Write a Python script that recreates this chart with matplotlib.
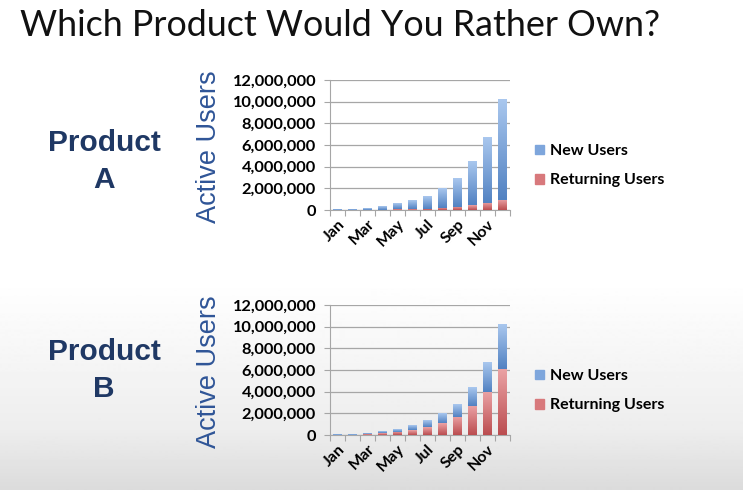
import numpy as np
import matplotlib
matplotlib.use("Agg")
import matplotlib.pyplot as plt
from matplotlib.ticker import FuncFormatter, FixedLocator
from matplotlib.colors import LinearSegmentedColormap
from matplotlib.patches import Patch

months = ["Jan", "Feb", "Mar", "Apr", "May", "Jun",
          "Jul", "Aug", "Sep", "Oct", "Nov", "Dec"]
# total active users per month (same for both products)
total_users = [50000, 80000, 180000, 320000, 520000, 820000,
               1300000, 2000000, 2900000, 4400000, 6700000, 10200000]
# returning users per month
returning_a = [5000, 8000, 18000, 32000, 52000, 80000,
               130000, 200000, 300000, 420000, 650000, 950000]
returning_b = [20000, 40000, 90000, 180000, 300000, 450000,
               700000, 1100000, 1700000, 2700000, 4000000, 6100000]
new_a = [t - r for t, r in zip(total_users, returning_a)]
new_b = [t - r for t, r in zip(total_users, returning_b)]

BLUE_CM = LinearSegmentedColormap.from_list("b", ["#5282c2", "#a9c7ee"])
RED_CM = LinearSegmentedColormap.from_list("r", ["#bb4d50", "#eba3a5"])
NAVY = "#1f3864"

fig = plt.figure(figsize=(7.43, 4.9), dpi=100)

# slide background: white fading to light gray at the bottom
bg = fig.add_axes([0, 0, 1, 1], zorder=-10)
grad = np.concatenate([np.linspace(0.86, 0.93, 60), np.linspace(0.93, 1.0, 150), np.ones(280)])
bg.imshow(grad[:, None], cmap="gray", vmin=0, vmax=1, aspect="auto",
          extent=[0, 1, 0, 1], origin="lower")
bg.axis("off")

fig.text(0.027, 1 - 25 / 490, "Which Product Would You Rather Own?", fontsize=25.8,
         family="Lato", va="center", ha="left", color="#111111")


def gradient_bars(ax, bars, cmap):
    g = np.linspace(0, 1, 64)[:, None]
    for r in bars:
        x0, y0 = r.get_x(), r.get_y()
        w, h = r.get_width(), r.get_height()
        ax.imshow(g, cmap=cmap, aspect="auto", origin="lower",
                  extent=[x0, x0 + w, y0, y0 + h], zorder=3)


def draw_panel(bottom, new, ret, letter, text_y):
    ax = fig.add_axes([330 / 743, bottom, 180 / 743, 130 / 490])
    ax.set_facecolor("none")
    x = np.arange(len(months))
    b1 = ax.bar(x, ret, width=0.55, alpha=0)
    b2 = ax.bar(x, new, width=0.55, bottom=ret, alpha=0)
    gradient_bars(ax, b1, RED_CM)
    gradient_bars(ax, b2, BLUE_CM)
    ax.set_xlim(-0.5, len(months) - 0.5)
    ax.set_ylim(0, 12000000)
    ax.set_yticks(range(0, 12000001, 2000000))
    ax.yaxis.set_major_formatter(FuncFormatter(lambda v, p: f"{int(v):,}"))
    ax.grid(axis="y", color="#a6a6a6", linewidth=0.9, zorder=0)
    ax.xaxis.set_major_locator(FixedLocator(np.arange(-0.5, len(months), 1)))
    ax.xaxis.set_major_formatter(FuncFormatter(lambda v, p: ""))
    ax.xaxis.set_minor_locator(FixedLocator(x[::2]))
    ax.set_xticklabels([m for m in months[::2]], minor=True)
    ax.tick_params(axis="x", which="major", length=4, color="#a6a6a6")
    ax.tick_params(axis="x", which="minor", length=0, pad=5)
    ax.tick_params(axis="y", length=4, color="#a6a6a6", pad=6)
    for lab in ax.get_xticklabels(minor=True):
        lab.set_rotation(45)
        lab.set_ha("right")
        lab.set_va("top")
        lab.set_rotation_mode("anchor")
        lab.set_fontsize(11.5)
        lab.set_fontweight("bold")
        lab.set_family("Lato")
    for lab in ax.get_yticklabels():
        lab.set_fontsize(11.8)
        lab.set_fontweight("bold")
        lab.set_family("Lato")
    for s in ["top", "right"]:
        ax.spines[s].set_visible(False)
    ax.spines["left"].set_color("#a6a6a6")
    ax.spines["bottom"].set_color("#a6a6a6")
    ax.set_ylabel("Active Users", fontsize=19.5, color="#2f5597",
                  family="Liberation Sans")
    ax.yaxis.set_label_coords(-0.6, 0.49)
    handles = [Patch(color="#7ea6dc"), Patch(color="#d8797c")]
    ax.legend(handles, ["New Users", "Returning Users"], loc="center left",
              bbox_to_anchor=(1.06, 0.34), frameon=False, handlelength=0.55,
              handleheight=0.55, labelspacing=0.95, handletextpad=0.35,
              prop={"family": "Lato", "weight": "bold", "size": 11.5})
    fig.text(104 / 743, 1 - text_y / 490, "Product", fontsize=21.5, fontweight="bold",
             color=NAVY, ha="center", va="center", family="Liberation Sans")
    fig.text(104 / 743, 1 - (text_y + 37) / 490, letter, fontsize=21.5,
             fontweight="bold", color=NAVY, ha="center", va="center",
             family="Liberation Sans")
    return ax


draw_panel(1 - 210 / 490, new_a, returning_a, "A", 143)
draw_panel(1 - 435 / 490, new_b, returning_b, "B", 352)

fig.savefig("out.png", dpi=100)
